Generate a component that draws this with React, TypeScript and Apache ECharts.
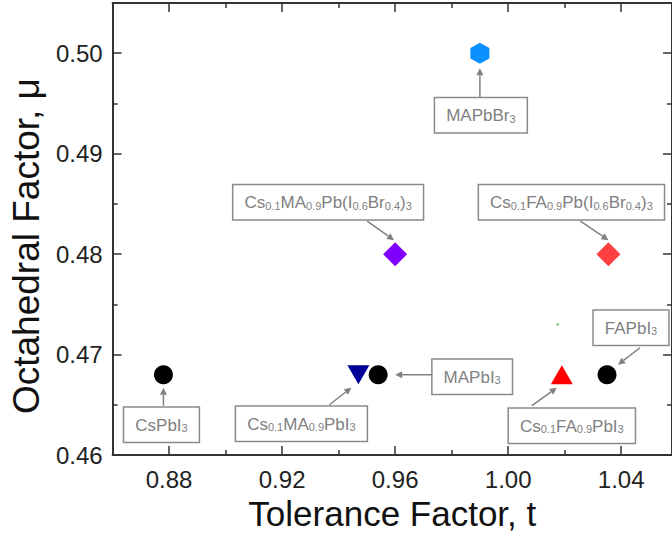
import React, { useEffect, useRef } from 'react';
import * as echarts from 'echarts';

// ---- data ----
const compounds = [
  'CsPbI_{3}',
  'Cs_{0.1}MA_{0.9}PbI_{3}',
  'MAPbI_{3}',
  'Cs_{0.1}FA_{0.9}PbI_{3}',
  'FAPbI_{3}',
  'MAPbBr_{3}',
  'Cs_{0.1}MA_{0.9}Pb(I_{0.6}Br_{0.4})_{3}',
  'Cs_{0.1}FA_{0.9}Pb(I_{0.6}Br_{0.4})_{3}',
];
const tolerance = [0.878, 0.947, 0.954, 1.019, 1.035, 0.99, 0.96, 1.0355];
const octahedral = [0.468, 0.468, 0.468, 0.468, 0.468, 0.5, 0.48, 0.48];
const strayX = [1.0175];
const strayY = [0.473];

const xMajor = [0.88, 0.92, 0.96, 1.0, 1.04];
const xMinor = [0.86, 0.9, 0.94, 0.98, 1.02];
const yMajor = [0.46, 0.47, 0.48, 0.49, 0.5];
const yMinor = [0.465, 0.475, 0.485, 0.495];

// ---- styles ----
const HEX = 'path://M0,-10 L8.66,-5 L8.66,5 L0,10 L-8.66,5 L-8.66,-5 Z';
const INV_TRI = 'path://M0,0 L2,0 L1,1.73 Z';
const symbols = ['circle', INV_TRI, 'circle', 'triangle', 'circle', HEX, 'diamond', 'diamond'];
const colors = ['#000000', '#000099', '#000000', '#FF0000', '#000000', '#0A90FF', '#7F00FF', '#FF4040'];
const sizes: any[] = [19, [22, 19], 19, [22, 19], 19, [19, 21], [24, 24], [24, 24]];
const labelOffsets = [[-2, 50], [-57, 49], [94, 2], [10, 51], [24, -47], [1, 62], [-67, -52], [-37, -52]];
const arrows = [
  [0, 31, 0, 13],
  [-29, 30, -7, 13],
  [54, 0, 17, 0],
  [-30, 31, -5, 13],
  [33, -27, 11, -10],
  [0, 44, 0, 15],
  [-28, -33, -1, -14],
  [-28, -33, 0, -14],
];

const FONT = '"Liberation Sans", Arial, sans-serif';
const GRAY = '#808080';
const AXIS = '#333333';

function toRich(s: string) {
  return s
    .split(/(_\{[^}]*\})/)
    .filter(Boolean)
    .map((p) => (p.startsWith('_{') ? `{s|${p.slice(2, -1)}}` : `{n|${p}}`))
    .join('');
}

const fmt = (v: number) => v.toFixed(2);

function xAxisDef(position: 'top' | 'bottom', major: boolean, main: boolean) {
  return {
    type: 'value',
    gridIndex: 0,
    min: 0.86,
    max: 1.058,
    position,
    axisLine: { show: major, onZero: false, lineStyle: { color: AXIS, width: 2 } },
    axisTick: {
      show: true,
      inside: true,
      length: major ? 9 : 5,
      customValues: major ? xMajor : xMinor,
      lineStyle: { color: AXIS, width: 1.5 },
    },
    axisLabel: main
      ? { show: true, customValues: xMajor, formatter: fmt, fontSize: 24, color: '#222', fontFamily: FONT, margin: 12 }
      : { show: false },
    splitLine: { show: false },
    ...(main
      ? {
          name: 'Tolerance Factor, t',
          nameLocation: 'middle',
          nameGap: 36,
          nameTextStyle: { fontSize: 35, color: '#111', fontFamily: FONT },
        }
      : {}),
  };
}

function yAxisDef(position: 'left' | 'right', major: boolean, main: boolean) {
  return {
    type: 'value',
    gridIndex: 0,
    min: 0.46,
    max: 0.505,
    position,
    axisLine: { show: major, onZero: false, lineStyle: { color: AXIS, width: 2 } },
    axisTick: {
      show: true,
      inside: true,
      length: major ? 9 : 5,
      customValues: major ? yMajor : yMinor,
      lineStyle: { color: AXIS, width: 1.5 },
    },
    axisLabel: main
      ? { show: true, customValues: yMajor, formatter: fmt, fontSize: 24, color: '#222', fontFamily: FONT, margin: 10 }
      : { show: false },
    splitLine: { show: false },
    ...(main
      ? {
          name: 'Octahedral Factor, μ',
          nameLocation: 'middle',
          nameGap: 62,
          nameTextStyle: { fontSize: 37, color: '#111', fontFamily: FONT, padding: [0, 34, 0, 0] },
        }
      : {}),
  };
}

export default function App() {
  const ref = useRef<HTMLDivElement>(null);
  useEffect(() => {
    const chart = echarts.init(ref.current!, null, { renderer: 'svg' });
    const data = tolerance.map((x, i) => ({
      value: [x, octahedral[i]],
      symbol: symbols[i],
      symbolSize: sizes[i],
      itemStyle: { color: colors[i], opacity: 1 },
      label: {
        show: true,
        position: 'inside',
        offset: labelOffsets[i],
        align: 'center',
        verticalAlign: 'middle',
        formatter: toRich(compounds[i]),
        backgroundColor: '#ffffff',
        borderColor: '#8a8a8a',
        borderWidth: 1.5,
        padding: [9, 11, 8, 11],
        rich: {
          n: { fontSize: 17, lineHeight: 17, color: GRAY, fontFamily: FONT, verticalAlign: 'top' },
          s: { fontSize: 11, lineHeight: 11, color: GRAY, fontFamily: FONT, verticalAlign: 'bottom', padding: [8, 0, 0, 0] },
        },
      },
    }));
    const option: any = {
      animation: false,
      backgroundColor: '#ffffff',
      grid: { left: 111, top: 3, width: 566, height: 458, containLabel: false },
      xAxis: [xAxisDef('bottom', true, true), xAxisDef('bottom', false, false), xAxisDef('top', true, false), xAxisDef('top', false, false)],
      yAxis: [yAxisDef('left', true, true), yAxisDef('left', false, false), yAxisDef('right', true, false), yAxisDef('right', false, false)],
      series: [
        { type: 'scatter', xAxisIndex: 0, yAxisIndex: 0, data, z: 5 },
        {
          type: 'scatter',
          xAxisIndex: 0,
          yAxisIndex: 0,
          data: strayX.map((x, i) => [x, strayY[i]]),
          symbolSize: 2,
          itemStyle: { color: '#3caa3c', opacity: 1 },
        },
      ],
    };
    chart.setOption(option);

    const elements: any[] = [];
    arrows.forEach(([sx, sy, ex, ey], i) => {
      const p = chart.convertToPixel({ gridIndex: 0 }, [tolerance[i], octahedral[i]]) as number[];
      const x1 = p[0] + sx, y1 = p[1] + sy, x2 = p[0] + ex, y2 = p[1] + ey;
      const dx = x2 - x1, dy = y2 - y1;
      const len = Math.hypot(dx, dy) || 1;
      const ux = dx / len, uy = dy / len;
      const hl = 7, hw = 3.5;
      const bx = x2 - ux * hl, by = y2 - uy * hl;
      elements.push({
        type: 'line',
        shape: { x1, y1, x2: bx, y2: by },
        style: { stroke: GRAY, lineWidth: 1.5 },
        z: 20,
      });
      elements.push({
        type: 'polygon',
        shape: { points: [[x2, y2], [bx - uy * hw, by + ux * hw], [bx + uy * hw, by - ux * hw]] },
        style: { fill: GRAY },
        z: 20,
      });
    });
    chart.setOption({ graphic: { elements } });
    return () => chart.dispose();
  }, []);
  return <div ref={ref} style={{ position: 'absolute', left: 0, top: 0, width: 672, height: 536 }} />;
}
